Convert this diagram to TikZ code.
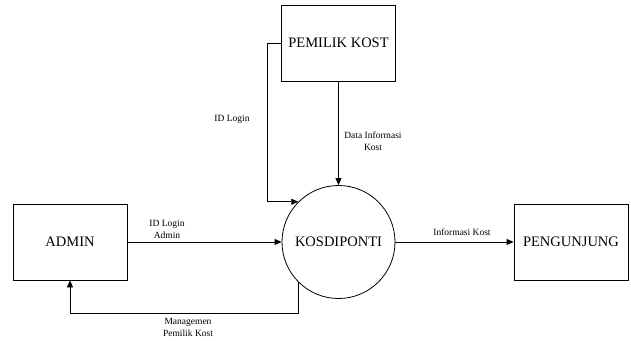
\documentclass[tikz,border=0pt]{standalone}
\usepackage{fontspec}
\setmainfont{Liberation Serif}
\usetikzlibrary{arrows.meta}

\tikzset{
    entitas/.style={draw, line width=0.8pt, minimum width=114pt, minimum height=76pt, inner sep=0pt, font=\fontsize{14.5}{16}\selectfont},
    proses/.style={draw, circle, line width=0.8pt, minimum size=113pt, inner sep=0pt, font=\fontsize{14.5}{16}\selectfont},
    aliran/.style={line width=0.8pt, -{Triangle[length=7pt,width=6pt]}},
    keterangan/.style={font=\fontsize{9.5}{12}\selectfont, align=center, inner sep=0pt}
}

\begin{document}
\begin{tikzpicture}[x=1pt,y=-1pt]
    \useasboundingbox (0,0) rectangle (631,340);

    % entitas dan proses
    \node[entitas] (pemilik) at (338.5,43) {PEMILIK KOST};
    \node[entitas] (admin) at (70,242) {ADMIN};
    \node[entitas] (pengunjung) at (571,242) {PENGUNJUNG};
    \node[proses] (kos) at (338.5,242) {KOSDIPONTI};

    \coordinate (belok) at (267,43);

    % aliran data
    \draw[aliran] (pemilik.west) -- (belok) |- (kos.135);
    \draw[aliran] (pemilik.south) -- (kos.north);
    \draw[aliran] (admin.east) -- (kos.west);
    \draw[aliran] (kos.225) -- ++(0,31) -| (admin.south);
    \draw[aliran] (kos.east) -- (pengunjung.west);

    % keterangan
    \node[keterangan] (ketlogin) at (232,119) {ID Login};
    \node[keterangan] (ketdata) at (373,141) {Data Informasi\\Kost};
    \node[keterangan] (ketadmin) at (167,229) {ID Login\\Admin};
    \node[keterangan] (ketmanage) at (188,327) {Managemen\\Pemilik Kost};
    \node[keterangan] (ketinfo) at (462,232) {Informasi Kost};
\end{tikzpicture}
\end{document}
